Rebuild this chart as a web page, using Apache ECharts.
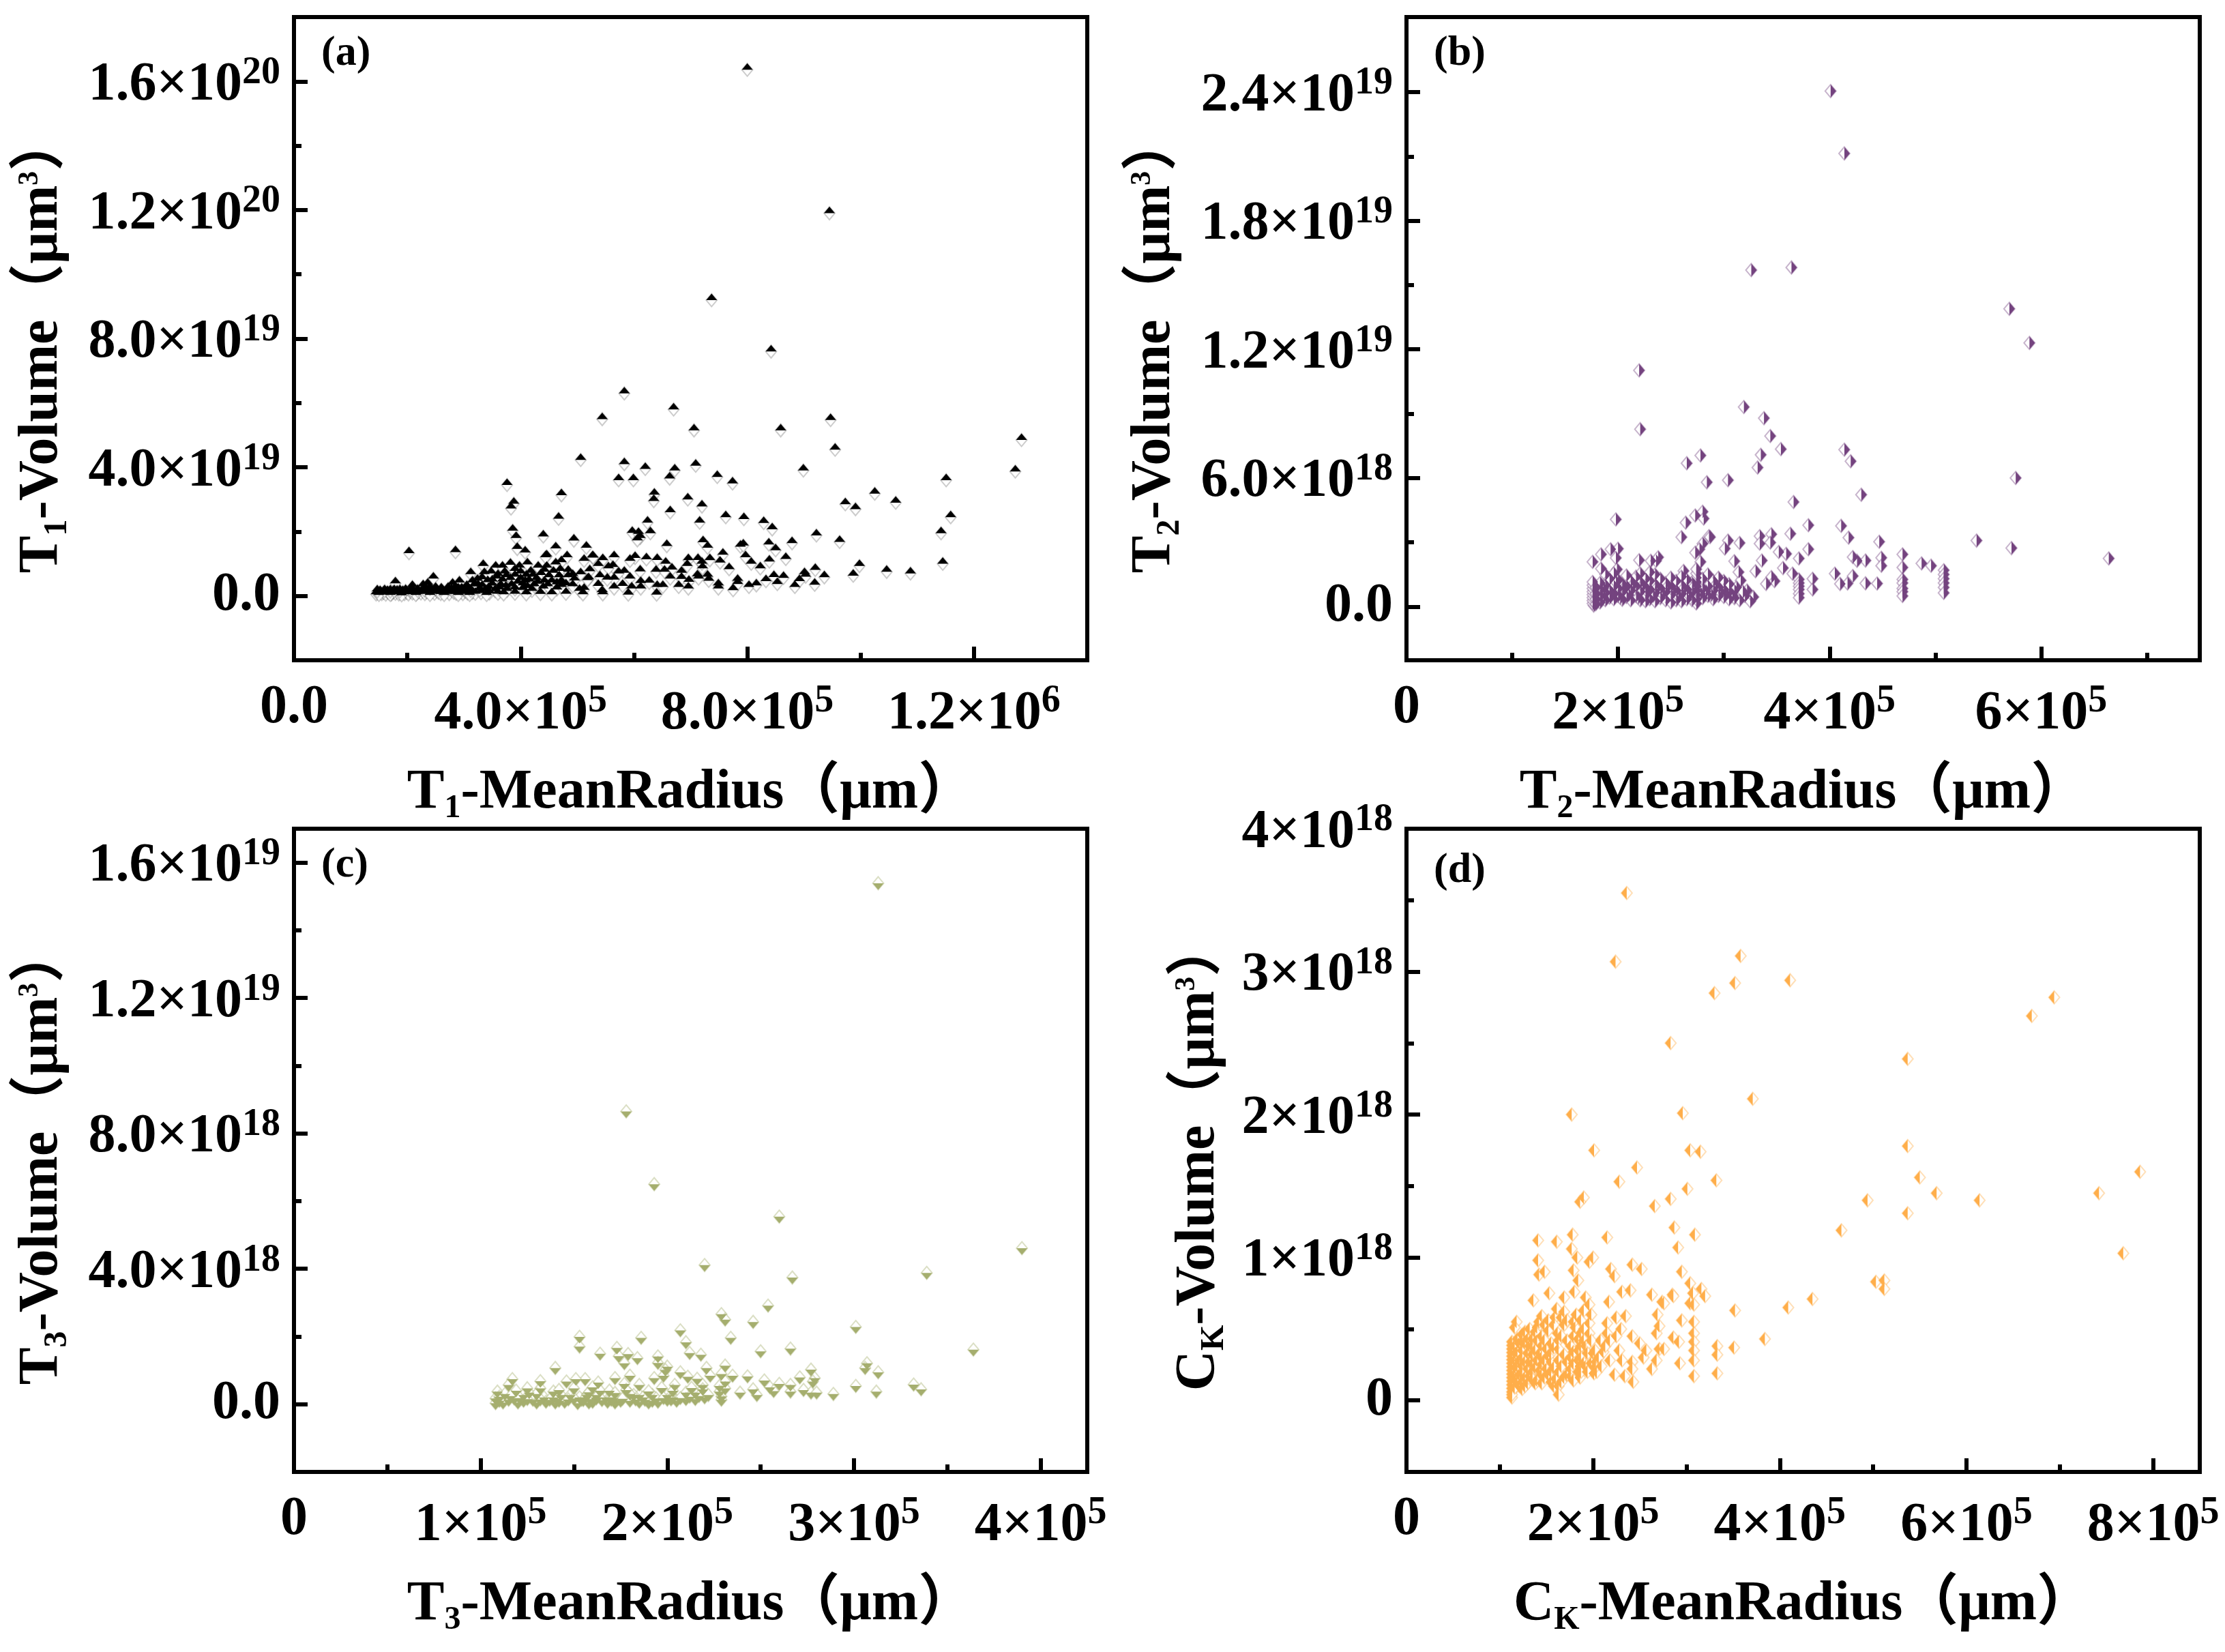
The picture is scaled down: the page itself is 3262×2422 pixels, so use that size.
<!DOCTYPE html>
<html><head><meta charset="utf-8">
<style>html,body{margin:0;padding:0;background:#fff}#c{width:3262px;height:2422px}</style>
<script src="https://cdn.jsdelivr.net/npm/echarts@6/dist/echarts.min.js"></script>
</head><body><div id="c"></div>
<script>
// radius in 1e5 um, volume in 1e19 um3
const t1Points=[[8.0,16.36],[9.45,11.9],[7.37,9.2],[8.42,7.6],[5.83,6.3],[5.44,5.5],[6.7,5.8],[7.06,5.15],[8.59,5.15],[9.47,5.47],[9.55,4.55],[12.84,4.85],[12.73,3.87],[5.06,4.23],[5.83,4.1],[5.73,3.6],[5.99,3.6],[6.2,3.95],[6.72,3.9],[6.63,3.65],[7.09,4.05],[7.47,3.7],[7.74,3.5],[8.99,3.9],[11.51,3.6],[10.25,3.18],[10.62,2.9],[9.73,2.85],[9.91,2.7],[11.59,2.45],[3.76,3.45],[3.88,2.87],[3.83,2.72],[4.72,3.13],[4.67,2.4],[6.36,3.15],[6.35,2.95],[6.95,3.0],[6.64,2.6],[7.2,2.78],[7.16,2.28],[7.62,2.45],[7.94,2.39],[8.29,2.27],[8.44,2.07],[6.24,2.28],[3.86,2.03],[3.92,1.8],[4.4,1.85],[4.94,1.72],[5.97,1.96],[6.08,1.93],[6.29,1.95],[6.11,1.8],[6.06,1.73],[6.58,1.55],[7.22,1.67],[7.3,1.5],[7.88,1.53],[7.93,1.57],[8.38,1.6],[8.5,1.42],[8.79,1.64],[9.22,1.88],[9.63,1.68],[11.42,1.95],[11.45,1.0],[9.98,0.93],[10.46,0.75],[10.88,0.7],[9.87,0.63],[9.2,0.81],[9.01,0.68],[9.36,0.58],[9.03,0.6],[9.19,0.35],[8.84,0.28],[8.92,0.46],[8.64,0.56],[8.47,0.59],[8.33,0.46],[8.53,0.37],[8.68,1.15],[8.39,1.07],[8.23,0.86],[8.07,1.0],[7.97,1.2],[7.68,0.83],[7.52,1.04],[7.57,1.28],[7.34,1.11],[7.13,1.12],[6.96,1.11],[7.21,0.86],[7.2,1.0],[6.94,0.93],[6.84,0.72],[6.67,0.82],[6.56,1.0],[6.41,1.12],[6.22,1.14],[6.02,1.18],[5.93,1.09],[5.65,1.2],[5.45,1.11],[5.27,1.2],[5.12,1.09],[5.37,0.93],[5.63,0.9],[5.55,0.86],[5.22,0.77],[5.83,0.72],[5.73,0.7],[6.11,0.76],[6.39,0.75],[6.54,0.75],[5.4,0.58],[5.65,0.51],[5.93,0.54],[6.64,0.54],[6.84,0.53],[7.12,0.61],[7.3,0.6],[7.14,0.54],[5.2,0.52],[5.53,0.51],[6.97,0.44],[7.32,0.47],[6.12,0.4],[6.27,0.41],[5.8,0.31],[5.37,0.31],[5.65,0.23],[5.96,0.23],[6.12,0.23],[6.41,0.28],[6.51,0.28],[6.79,0.28],[6.96,0.23],[7.49,0.33],[7.49,0.23],[7.83,0.47],[7.83,0.37],[8.03,0.28],[8.16,0.33],[7.75,0.18],[5.44,0.12],[5.12,0.19],
[2.03,1.33],[2.85,1.36],[1.79,0.39],[2.46,0.54],[2.09,0.28],[2.36,0.35],[2.28,0.3],[2.8,0.35],[2.92,0.42],[3.12,0.68],[3.34,0.93],[3.36,0.68],[3.56,0.88],[3.68,0.88],[3.82,0.97],[3.98,0.88],[4.12,0.98],[4.31,0.88],[4.46,0.88],[4.62,0.98],[4.72,1.05],[4.46,1.23],[4.44,1.2],[4.82,1.2],[3.94,1.46],[4.08,1.35],[4.62,1.48],[5.16,1.5],[5.28,1.19],[3.24,0.47],[3.42,0.43],[3.58,0.54],[3.82,0.5],[4.0,0.5],[4.18,0.72],[4.36,0.65],[4.5,0.58],[4.68,0.58],[4.84,0.75],[4.84,0.58],[5.06,0.67],[5.18,0.49],[4.64,0.36],[4.8,0.33],[4.4,0.23],[4.2,0.16],[3.76,0.16],[4.04,0.19],[4.64,0.2],[5.04,0.16],[3.08,0.2],[3.38,0.16],[3.25,0.3],[3.65,0.3],[3.84,0.3],[4.04,0.33],[4.24,0.3],[3.55,0.15],[4.15,0.45],[4.0,0.7],[3.9,0.78],[4.1,0.6],[3.72,0.7],[3.48,0.7],
[1.45,0.05],[1.48,0.09],[1.52,0.12],[1.55,0.06],[1.58,0.1],[1.62,0.04],[1.65,0.12],[1.68,0.08],[1.72,0.05],[1.75,0.11],[1.79,0.07],[1.82,0.13],[1.85,0.05],[1.88,0.09],[1.92,0.12],[1.95,0.06],[1.99,0.1],[2.02,0.05],[2.05,0.14],[2.09,0.08],[2.12,0.11],[2.16,0.06],[2.2,0.12],[2.24,0.08],[2.27,0.16],[2.31,0.06],[2.34,0.12],[2.38,0.18],[2.41,0.09],[2.45,0.14],[2.48,0.07],[2.52,0.16],[2.55,0.1],[2.59,0.06],[2.62,0.14],[2.66,0.09],[2.7,0.16],[2.74,0.06],[2.78,0.18],[2.82,0.1],[2.86,0.07],[2.9,0.2],[2.94,0.12],[2.98,0.06],[3.02,0.14],[3.06,0.08],[3.15,0.1],[3.2,0.07],[3.3,0.09],[3.45,0.08],[3.6,0.07],[3.7,0.05],[3.9,0.07],[4.1,0.05],[4.35,0.06],[4.55,0.05],[4.8,0.07],[5.1,0.05],[5.45,0.05],[5.9,0.04],[6.4,0.04],[1.5,0.03],[1.7,0.03],[1.9,0.02],[2.15,0.03],[2.4,0.03],[2.65,0.03],[2.9,0.03],[3.1,0.03],[3.4,0.03],
[1.47,0.14],[1.6,0.15],[1.7,0.14],[1.77,0.15],[1.87,0.15],[1.97,0.16],[2.07,0.17],[2.18,0.16],[2.3,0.18],[2.4,0.22],[2.5,0.22],[2.6,0.2],[2.72,0.22],[2.85,0.24],[2.96,0.2],[3.05,0.28],[3.12,0.16],[3.18,0.3],[3.28,0.18],[3.32,0.28],[3.44,0.22],[3.5,0.32],[3.62,0.2],[3.74,0.26],[3.9,0.2],[3.95,0.38],[4.12,0.25],[4.3,0.38],[4.48,0.3],[4.55,0.42],[4.72,0.28],[4.92,0.3],[3.15,0.42],[3.32,0.52],[3.5,0.45],[3.68,0.45],[3.9,0.6],[4.08,0.42],[4.28,0.5],[4.42,0.42],[4.72,0.42],[4.95,0.48],[3.6,0.62],[3.75,0.58],[4.22,0.6],[4.42,0.75],[4.58,0.72],[4.7,0.78],[4.92,0.62]];
// radius in 1e5 um, volume in 1e18 um3
const t2Points=[[4.01,24.05],[4.14,21.14],[3.26,15.7],[3.64,15.82],[5.7,13.89],[5.89,12.3],[2.2,11.02],[2.21,8.28],[3.19,9.31],[3.38,8.79],[3.44,7.96],[3.35,7.08],[3.54,7.35],[4.14,7.32],[4.2,6.78],[2.78,7.05],[2.65,6.69],[3.32,6.49],[5.76,6.0],[2.84,5.8],[3.04,5.9],[4.3,5.22],[3.66,4.88],[1.98,4.07],[2.64,3.92],[2.73,4.25],[2.8,4.43],[2.81,4.11],[3.8,3.8],[4.11,3.77],[2.6,3.24],[2.86,3.29],[2.8,2.94],[2.77,2.68],[2.73,2.52],[3.04,3.08],[3.15,2.97],[3.01,2.71],[2.87,3.24],[3.1,2.12],[3.36,2.15],[3.52,2.55],[3.59,2.46],[3.71,2.25],[3.8,2.68],[3.56,1.8],[3.65,1.54],[3.3,1.65],[3.14,1.61],[3.16,1.22],[3.45,1.38],[3.48,1.19],[3.4,1.06],[3.84,1.3],[3.84,0.8],[3.63,3.4],[3.34,3.29],[3.45,3.38],[3.34,2.94],[3.44,2.99],[4.18,3.22],[4.47,3.03],[5.39,3.08],[5.72,2.73],[6.64,2.25],[3.71,1.27],[3.71,1.1],[3.71,0.95],[3.71,0.8],[3.71,0.6],[3.71,0.42],[4.05,1.54],[4.22,1.43],[4.1,1.06],[4.17,1.08],[4.34,1.09],[4.45,1.08],[4.22,2.31],[4.26,2.14],[4.34,2.15],[4.49,2.28],[4.49,1.91],[4.69,2.44],[4.69,1.83],[4.69,1.27],[4.69,1.1],[4.69,0.85],[4.69,0.7],[4.69,0.5],[4.87,2.02],[4.96,1.91],[5.08,1.7],[5.08,1.5],[5.08,1.3],[5.08,1.1],[5.08,0.9],[5.08,0.64],
[1.76,2.09],[1.84,2.44],[1.93,2.68],[2.0,2.7],[1.98,2.27],[1.84,1.77],[1.99,1.74],[2.2,2.17],[2.31,2.14],[2.36,2.14],[2.38,2.3],[2.78,2.09],[2.62,1.67],
[1.77,0.05],[1.76,0.15],[1.76,0.28],[1.76,0.42],[1.76,0.56],[1.76,0.7],[1.76,0.85],[1.76,1.0],[1.76,1.15],[1.79,0.12],[1.79,0.35],[1.79,0.6],[1.79,0.9],[1.83,0.2],[1.83,0.5],[1.83,0.8],[1.83,1.1],[1.88,0.3],[1.88,0.65],[1.88,1.0],[1.88,1.5],[1.92,0.42],[1.92,0.75],[1.92,1.3],[1.96,0.35],[1.96,0.6],[1.96,0.95],[1.96,1.55],[2.0,0.5],[2.0,0.85],[2.0,1.25],[2.04,0.32],[2.04,0.7],[2.04,1.05],[2.08,0.45],[2.08,0.95],[2.08,1.45],[2.12,0.3],[2.12,0.75],[2.12,1.2],[2.17,0.5],[2.17,0.95],[2.17,1.4],[2.21,0.3],[2.21,0.7],[2.21,1.15],[2.21,1.55],[2.26,0.25],[2.26,0.55],[2.26,0.9],[2.26,1.3],[2.3,0.35],[2.3,0.8],[2.3,1.2],[2.3,1.6],[2.35,0.25],[2.35,0.65],[2.35,1.05],[2.35,1.5],[2.4,0.4],[2.4,0.85],[2.4,1.3],[2.45,0.3],[2.45,0.7],[2.45,1.1],[2.5,0.2],[2.5,0.55],[2.5,0.95],[2.5,1.35],[2.55,0.3],[2.55,0.75],[2.55,1.2],[2.6,0.25],[2.6,0.6],[2.6,1.0],[2.6,1.4],[2.65,0.35],[2.65,0.8],[2.65,1.25],[2.7,0.3],[2.7,0.7],[2.7,1.1],[2.74,0.15],[2.74,0.35],[2.74,0.55],[2.74,0.75],[2.74,0.95],[2.74,1.15],[2.74,1.35],[2.74,1.55],[2.74,1.75],[2.8,0.4],[2.8,0.85],[2.8,1.3],[2.85,0.5],[2.85,0.95],[2.85,1.5],[2.9,0.35],[2.9,0.75],[2.9,1.2],[2.95,0.5],[2.95,0.9],[2.95,1.35],[3.0,0.45],[3.0,0.8],[3.0,1.2],[3.05,0.35],[3.05,0.7],[3.05,1.05],[3.1,0.4],[3.1,0.75],[3.15,0.3],[3.2,0.5],[3.25,0.25],[3.28,0.45],[3.22,0.75],
[1.86,0.45],[1.86,0.85],[1.94,0.55],[1.98,1.15],[2.02,0.42],[2.06,0.88],[2.1,0.55],[2.14,1.02],[2.19,0.42],[2.23,0.98],[2.28,0.68],[2.33,0.5],[2.37,0.9],[2.42,0.6],[2.47,0.95],[2.52,0.75],[2.57,0.5],[2.62,0.85],[2.67,0.55],[2.72,0.95],[2.78,0.6],[2.83,0.72],[2.88,0.55],[2.92,1.0],[2.97,0.68],[3.02,0.58],[3.08,0.55],[3.12,0.9],[3.18,0.7]];
// radius in 1e5 um, volume in 1e18 um3
const t3Points=[[3.13,15.39],[1.78,8.65],[1.93,6.5],[2.6,5.54],[2.2,4.11],[3.9,4.61],[2.67,3.74],[3.39,3.88],[2.54,2.91],[2.29,2.66],[2.31,2.5],[2.46,2.43],[3.01,2.28],[2.07,2.18],[2.1,1.83],[1.86,1.96],[2.34,1.96],[3.64,1.61],[2.66,1.64],[2.5,1.56],[1.73,1.66],[1.64,1.49],[1.53,1.99],[1.53,1.7],[1.74,1.42],[1.79,1.48],[1.84,1.36],[1.77,1.21],[1.95,1.41],[1.95,1.22],[2.0,1.11],[1.99,1.01],[2.12,1.51],[2.18,1.46],[2.21,1.07],[2.31,1.14],[3.07,1.21],[3.06,1.07],[3.13,0.94],[2.77,1.02],[2.71,0.79],[2.79,0.77],[2.78,0.67],[2.43,0.82],[2.35,0.84],[2.29,0.89],[2.23,0.84],[2.31,0.67],[2.07,0.94],[2.11,0.81],[2.16,0.75],[1.98,0.84],[1.93,0.77],[1.8,0.84],[1.72,0.77],[1.56,0.74],[1.63,0.64],[2.04,0.57],[2.19,0.57],[1.97,0.48],[1.85,0.57],[1.77,0.6],[2.52,0.7],[2.6,0.6],[2.66,0.57],[2.55,0.5],[2.57,0.39],[2.66,0.37],[2.73,0.42],[2.77,0.34],[2.8,0.34],[2.89,0.3],[3.01,0.54],[3.12,0.37],[3.32,0.58],[3.36,0.44],[2.39,0.34],[2.46,0.44],[2.48,0.27],[2.28,0.54],[2.28,0.37],[2.29,0.23],[2.29,0.13],[2.31,0.47],[2.15,0.34],[2.1,0.34],[2.19,0.44],[1.92,0.1],[1.92,0.27],[2.0,0.27],[2.0,0.13],[2.03,0.2],[1.85,0.27],[1.87,0.2],[1.82,0.27],[1.8,0.3],[1.7,0.13],[1.73,0.13],[1.67,0.2],[1.62,0.17],[1.62,0.27],[1.64,0.4],[1.56,0.2],[1.54,0.13],
[1.4,1.07],[1.17,0.74],[1.32,0.68],[1.46,0.67],[1.51,0.74],[1.32,0.47],[1.15,0.57],[1.19,0.4],[1.09,0.37],[1.13,0.3],[1.08,0.17],[1.08,0.03],[1.26,0.34],[1.23,0.27],[1.3,0.3],[1.34,0.2],[1.39,0.2],[1.39,0.37],[1.43,0.27],[1.48,0.27],[1.53,0.2],[1.62,0.2],[1.57,0.27],[1.69,0.2],[1.69,0.4],[1.15,0.13],[1.18,0.17],[1.23,0.1],[1.28,0.13],[1.35,0.07],[1.42,0.1],[1.45,0.07],[1.52,0.03],[1.6,0.07],[1.68,0.07],[1.75,0.1],[1.8,0.1],[1.85,0.07],[1.95,0.07],[2.05,0.1],[2.1,0.15],[2.15,0.15],[2.2,0.2],[1.1,0.1],[1.12,0.05],[1.2,0.05],[1.3,0.05],[1.4,0.05],[1.58,0.05],[1.72,0.05],[1.9,0.05],
[1.1,0.22],[1.16,0.24],[1.21,0.18],[1.25,0.15],[1.32,0.14],[1.37,0.13],[1.41,0.16],[1.47,0.14],[1.5,0.17],[1.55,0.12],[1.59,0.15],[1.65,0.12],[1.71,0.18],[1.76,0.16],[1.83,0.14],[1.88,0.13],[1.94,0.17],[1.98,0.18],[2.02,0.14],[2.07,0.18],[2.12,0.22],[2.17,0.24],[2.22,0.27],[1.58,0.35],[1.72,0.33],[1.78,0.42],[1.9,0.38],[2.03,0.4],[2.13,0.48],[1.5,0.47],[1.42,0.42],[1.25,0.47],[1.6,0.5]];
// radius in 1e5 um, volume in 1e18 um3
const ckPoints=[[2.36,3.55],[2.24,3.07],[3.58,3.11],[3.52,2.92],[3.3,2.85],[4.11,2.94],[6.94,2.82],[6.7,2.69],[2.83,2.5],[5.37,2.39],[3.71,2.11],[2.96,2.01],[1.77,2.0],[5.37,1.78],[3.04,1.75],[3.15,1.74],[2.01,1.75],[2.47,1.63],[2.28,1.53],[3.32,1.54],[5.5,1.56],[7.86,1.6],[5.68,1.45],[7.42,1.45],[6.14,1.4],[4.94,1.4],[3.01,1.48],[2.83,1.41],[2.66,1.36],[1.9,1.42],[1.86,1.39],[5.37,1.31],[2.87,1.21],[4.66,1.19],[3.09,1.16],[2.15,1.14],[1.78,1.16],[1.41,1.12],[1.61,1.11],[7.68,1.03],[2.91,1.07],[1.77,1.06],[1.83,1.0],[1.41,0.98],[1.96,0.97],[2.0,1.0],[2.42,0.95],[2.52,0.92],[2.19,0.92],[2.23,0.87],[1.42,0.88],[1.48,0.9],[2.95,0.9],[1.79,0.91],[1.84,0.84],[1.8,0.76],[5.03,0.83],[5.12,0.84],[5.12,0.78],[1.53,0.75],[1.36,0.7],[1.69,0.72],[1.92,0.72],[2.31,0.76],[2.4,0.77],[2.63,0.74],[2.85,0.74],[3.04,0.82],[3.16,0.78],[3.04,0.68],[3.2,0.73],[2.74,0.69],[2.17,0.69],[4.35,0.71],[4.09,0.65],[3.52,0.63],[3.84,0.43],[3.51,0.37],[3.33,0.38],[3.33,0.32],[3.33,0.19],
[2.76,0.68],[2.86,0.73],[3.07,0.75],[3.08,0.67],[1.18,0.55],[1.16,0.51],[1.61,0.64],[1.45,0.59],[1.59,0.58],[1.69,0.62],[1.82,0.6],[1.96,0.67],[1.98,0.6],[1.96,0.54],[1.96,0.47],[1.4,0.51],[1.52,0.49],[1.62,0.47],[1.69,0.53],[1.81,0.51],[1.84,0.43],[2.15,0.54],[2.15,0.47],[2.25,0.58],[2.35,0.59],[2.3,0.5],[2.42,0.45],[2.25,0.45],[2.69,0.6],[2.71,0.52],[2.68,0.47],[2.95,0.56],[3.08,0.55],[3.08,0.47],[3.08,0.41],[3.08,0.35],[3.08,0.28],[3.08,0.17],[2.86,0.44],[2.92,0.41],[2.93,0.26],[2.71,0.36],[2.76,0.36],[2.5,0.4],[2.57,0.35],[2.54,0.3],[2.68,0.28],[2.63,0.22],[2.28,0.35],[2.31,0.28],[2.42,0.27],[2.42,0.22],[2.43,0.13],[2.23,0.18],[2.34,0.17],[2.11,0.34],[2.03,0.27],[2.01,0.19],[1.86,0.24],[1.86,0.16],
[1.13,0.41],[1.13,0.36],[1.13,0.31],[1.13,0.26],[1.13,0.21],[1.13,0.16],[1.13,0.11],[1.13,0.06],[1.13,0.02],[1.17,0.33],[1.17,0.23],[1.17,0.14],[1.21,0.4],[1.21,0.28],[1.21,0.18],[1.21,0.1],[1.24,0.46],[1.24,0.41],[1.24,0.35],[1.24,0.3],[1.24,0.24],[1.24,0.19],[1.24,0.13],[1.24,0.08],[1.3,0.43],[1.3,0.33],[1.3,0.22],[1.3,0.12],[1.35,0.43],[1.35,0.38],[1.35,0.32],[1.35,0.26],[1.35,0.2],[1.35,0.15],[1.4,0.42],[1.4,0.28],[1.4,0.14],[1.45,0.45],[1.45,0.38],[1.45,0.3],[1.45,0.25],[1.45,0.18],[1.45,0.12],[1.5,0.36],[1.5,0.22],[1.55,0.4],[1.55,0.33],[1.55,0.27],[1.55,0.2],[1.55,0.13],[1.63,0.42],[1.63,0.36],[1.63,0.28],[1.63,0.2],[1.63,0.1],[1.63,0.04],[1.69,0.32],[1.69,0.16],[1.76,0.38],[1.76,0.3],[1.76,0.22],[1.76,0.17],[1.84,0.35],[1.84,0.28],[1.84,0.2],[1.92,0.38],[1.92,0.24],[2.0,0.33],[2.08,0.42],[2.04,0.2],
[1.13,0.385],[1.13,0.335],[1.13,0.285],[1.13,0.235],[1.13,0.185],[1.13,0.135],[1.13,0.085],[1.13,0.04],[1.16,0.38],[1.16,0.28],[1.16,0.18],[1.16,0.09],[1.19,0.43],[1.19,0.34],[1.19,0.24],[1.19,0.13],[1.27,0.48],[1.27,0.4],[1.27,0.27],[1.27,0.16],[1.27,0.1],[1.32,0.5],[1.32,0.38],[1.32,0.27],[1.32,0.17],[1.38,0.48],[1.38,0.35],[1.38,0.23],[1.38,0.12],[1.42,0.55],[1.43,0.33],[1.43,0.21],[1.48,0.53],[1.48,0.42],[1.48,0.28],[1.48,0.16],[1.52,0.56],[1.52,0.31],[1.52,0.18],[1.58,0.53],[1.58,0.37],[1.58,0.23],[1.58,0.1],[1.6,0.15],[1.66,0.58],[1.66,0.45],[1.66,0.24],[1.66,0.13],[1.72,0.56],[1.72,0.42],[1.72,0.27],[1.72,0.18],[1.79,0.55],[1.79,0.45],[1.79,0.34],[1.79,0.26],[1.79,0.14],[1.87,0.56],[1.87,0.47],[1.87,0.38],[1.87,0.3],[1.87,0.2],[1.9,0.63],[1.9,0.5],[1.9,0.42],[1.9,0.26],[1.94,0.33],[1.94,0.2],[1.98,0.42],[1.98,0.26],[2.02,0.35],[2.02,0.23],[2.06,0.3],[2.09,0.24],[2.13,0.38],[2.18,0.42],[2.18,0.28]];

const xTicksA=['0.0','4.0×10^5','8.0×10^5','1.2×10^6'], xValuesA=[0,4e5,8e5,1.2e6], xMinorA=[2e5,6e5,1e6];
const yTicksA=['0.0','4.0×10^19','8.0×10^19','1.2×10^20','1.6×10^20'], yValuesA=[0,4e19,8e19,1.2e20,1.6e20], yMinorA=[2e19,6e19,1e20,1.4e20];
const xTicksB=['0','2×10^5','4×10^5','6×10^5'], xValuesB=[0,2e5,4e5,6e5], xMinorB=[1e5,3e5,5e5,7e5];
const yTicksB=['0.0','6.0×10^18','1.2×10^19','1.8×10^19','2.4×10^19'], yValuesB=[0,6e18,1.2e19,1.8e19,2.4e19], yMinorB=[3e18,9e18,1.5e19,2.1e19];
const xTicksC=['0','1×10^5','2×10^5','3×10^5','4×10^5'], xValuesC=[0,1e5,2e5,3e5,4e5], xMinorC=[5e4,1.5e5,2.5e5,3.5e5];
const yTicksC=['0.0','4.0×10^18','8.0×10^18','1.2×10^19','1.6×10^19'], yValuesC=[0,4e18,8e18,1.2e19,1.6e19], yMinorC=[2e18,6e18,1e19,1.4e19];
const xTicksD=['0','2×10^5','4×10^5','6×10^5','8×10^5'], xValuesD=[0,2e5,4e5,6e5,8e5], xMinorD=[1e5,3e5,5e5,7e5];
const yTicksD=['0','1×10^18','2×10^18','3×10^18','4×10^18'], yValuesD=[0,1e18,2e18,3e18,4e18], yMinorD=[5e17,1.5e18,2.5e18,3.5e18];

const FONT='"Liberation Serif","Noto Sans CJK SC",serif';
const rich={
  n:{fontFamily:FONT,fontWeight:'bold',fontSize:80,lineHeight:104,verticalAlign:'middle',color:'#000'},
  m:{fontFamily:FONT,fontWeight:'bold',fontSize:80,lineHeight:104,verticalAlign:'middle',color:'#000',padding:[12,0,0,0]},
  z:{fontFamily:FONT,fontWeight:'bold',fontSize:80,lineHeight:98,verticalAlign:'middle',color:'#000'},
  s:{fontFamily:FONT,fontWeight:'bold',fontSize:56,lineHeight:104,verticalAlign:'top',color:'#000',padding:[12,0,0,0]}
};
const nameRich={
  t:{fontFamily:FONT,fontWeight:'bold',fontSize:82,lineHeight:94,verticalAlign:'middle',color:'#000'},
  b:{fontFamily:FONT,fontWeight:'bold',fontSize:48,lineHeight:94,verticalAlign:'bottom',color:'#000'},
  p:{fontFamily:FONT,fontWeight:'bold',fontSize:42,lineHeight:86,verticalAlign:'top',color:'#000',padding:[8,0,0,0]}
};
const tickText=(t,isX)=>{const a=t.split('^');return a[1]?`{m|${a[0]}}{s|${a[1]}}`:(isX?`{z|${a[0]}}`:`{n|${a[0]}}`);};

const panels=[
 {tag:'(a)',tagDy:-4,left:431,top:25,xMax:1.4e6,yMin:-2e19,yMax:1.8e20,vu:1e19,pts:t1Points,color:'#000000',edge:'rgba(0,0,0,0.2)',half:'up',
  xv:xValuesA,xt:xTicksA,xm:xMinorA,yv:yValuesA,yt:yTicksA,ym:yMinorA,xn:'{t|T}{b|1}{t|-MeanRadius（μm）}',yn:'{t|T}{b|1}{t|-Volume（μm}{p|3}{t|）}',yGap:322},
 {tag:'(b)',tagDy:-4,left:2062,top:25,xMax:7.5e5,yMin:-2.5e18,yMax:2.75e19,vu:1e18,pts:t2Points,color:'#74437F',edge:'rgba(116,67,127,0.4)',half:'right',
  xv:xValuesB,xt:xTicksB,xm:xMinorB,yv:yValuesB,yt:yTicksB,ym:yMinorB,xn:'{t|T}{b|2}{t|-MeanRadius（μm）}',yn:'{t|T}{b|2}{t|-Volume（μm}{p|3}{t|）}',yGap:322},
 {tag:'(c)',tagDy:-4,left:431,top:1215,xMax:4.25e5,yMin:-2e18,yMax:1.7e19,vu:1e18,pts:t3Points,color:'#A5AE6E',edge:'rgba(165,174,110,0.4)',half:'down',
  xv:xValuesC,xt:xTicksC,xm:xMinorC,yv:yValuesC,yt:yTicksC,ym:yMinorC,xn:'{t|T}{b|3}{t|-MeanRadius（μm）}',yn:'{t|T}{b|3}{t|-Volume（μm}{p|3}{t|）}',yGap:322},
 {tag:'(d)',tagDy:4,left:2062,top:1215,xMax:8.5e5,yMin:-5e17,yMax:4e18,vu:1e18,pts:ckPoints,color:'#FFAE4A',edge:'rgba(255,174,74,0.4)',half:'left',
  xv:xValuesD,xt:xTicksD,xm:xMinorD,yv:yValuesD,yt:yTicksD,ym:yMinorD,xn:'{t|C}{b|K}{t|-MeanRadius（μm）}',yn:'{t|C}{b|K}{t|-Volume（μm}{p|3}{t|）}',yGap:257}
];
const W=16,H=19;
const halfSym={
 up:{symbol:'path://M0,10L10,0L20,10Z',size:[W,H/2],off:[0,-H/4]},
 down:{symbol:'path://M0,0L20,0L10,10Z',size:[W,H/2],off:[0,H/4]},
 left:{symbol:'path://M10,0L10,20L0,10Z',size:[W/2,H],off:[-W/4,0]},
 right:{symbol:'path://M0,0L10,10L0,20Z',size:[W/2,H],off:[W/4,0]}
};
const grids=[],xAxes=[],yAxes=[],series=[],titles=[];
const line={show:true,onZero:false,lineStyle:{color:'#000',width:6}};
panels.forEach((p,i)=>{
 grids.push({left:p.left,top:p.top,width:1163,height:943,show:true,backgroundColor:'#fff',borderColor:'#000',borderWidth:6,containLabel:false});
 const data=p.pts.map(d=>[d[0]*1e5,d[1]*p.vu]);
 const tm=(vals,txt,isX)=>v=>{const k=vals.findIndex(a=>Math.abs(a-v)<=Math.abs(a)*1e-6);return k>=0?tickText(txt[k],isX):'';};
 xAxes.push({gridIndex:i,type:'value',min:0,max:p.xMax,position:'bottom',axisLine:line,splitLine:{show:false},
  name:p.xn,nameLocation:'middle',nameGap:148,nameTextStyle:{rich:nameRich},
  axisTick:{show:true,inside:true,length:20,lineStyle:{color:'#000',width:6},customValues:p.xv},
  axisLabel:{show:true,margin:21,customValues:p.xv,formatter:tm(p.xv,p.xt,true),rich,hideOverlap:false,showMinLabel:true,showMaxLabel:true}});
 xAxes.push({gridIndex:i,type:'value',min:0,max:p.xMax,position:'bottom',axisLine:{show:false,onZero:false},splitLine:{show:false},
  axisTick:{show:true,inside:true,length:11,lineStyle:{color:'#000',width:6},customValues:p.xm},axisLabel:{show:false}});
 yAxes.push({gridIndex:i,type:'value',min:p.yMin,max:p.yMax,position:'left',axisLine:line,splitLine:{show:false},
  name:p.yn,nameLocation:'middle',nameGap:p.yGap,nameTextStyle:{rich:nameRich,padding:[0,16,0,0]},
  axisTick:{show:true,inside:true,length:20,lineStyle:{color:'#000',width:6},customValues:p.yv},
  axisLabel:{show:true,margin:20,customValues:p.yv,formatter:tm(p.yv,p.yt,false),rich,hideOverlap:false,showMinLabel:true,showMaxLabel:true}});
 yAxes.push({gridIndex:i,type:'value',min:p.yMin,max:p.yMax,position:'left',axisLine:{show:false,onZero:false},splitLine:{show:false},
  axisTick:{show:true,inside:true,length:11,lineStyle:{color:'#000',width:6},customValues:p.ym},axisLabel:{show:false}});
 const xi=i*2,yi=i*2;
 series.push({type:'scatter',xAxisIndex:xi,yAxisIndex:yi,data,symbol:'diamond',symbolSize:[W,H],silent:true,animation:false,
  itemStyle:{color:'#fff',opacity:1,borderColor:p.edge,borderWidth:2},z:3});
 const h=halfSym[p.half];
 series.push({type:'scatter',xAxisIndex:xi,yAxisIndex:yi,data,symbol:h.symbol,symbolSize:h.size,symbolOffset:h.off,silent:true,animation:false,
  itemStyle:{color:p.color,opacity:1,borderWidth:0},z:4});
 titles.push({text:p.tag,left:p.left+35,top:p.top+22+p.tagDy,textStyle:{fontFamily:FONT,fontWeight:'bold',fontSize:62,color:'#000'}});
});
const chart=echarts.init(document.getElementById('c'),null,{renderer:'canvas',width:3262,height:2422});
chart.setOption({animation:false,backgroundColor:'#fff',title:titles,grid:grids,xAxis:xAxes,yAxis:yAxes,series});
</script></body></html>
